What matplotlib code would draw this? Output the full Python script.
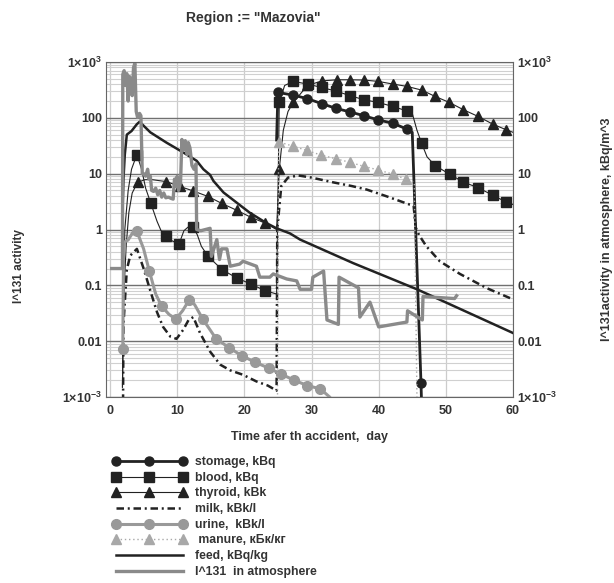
import matplotlib
matplotlib.use("Agg")
import matplotlib.pyplot as plt
import numpy as np

plt.rcParams['font.family'] = ['Liberation Sans', 'DejaVu Sans']
plt.rcParams['font.weight'] = 'bold'
plt.rcParams['axes.labelweight'] = 'bold'
plt.rcParams['mathtext.fontset'] = 'custom'
plt.rcParams['mathtext.rm'] = 'Liberation Sans:bold'
plt.rcParams['mathtext.default'] = 'rm'

# Data (days after accident, activity)
stomage_day = [24.8, 25.0, 27.3, 29.4, 31.5, 33.7, 35.7, 37.8, 39.9, 42.1, 44.2, 45.0, 46.3, 46.6]
stomage_val = [40, 285, 255, 220, 180, 147, 128, 109, 92, 80, 63, 55, 0.0018, 1e-4]
stomage_mark = [25.0, 27.3, 29.4, 31.5, 33.7, 35.7, 37.8, 39.9, 42.1, 44.2, 46.3]

blood_day = [1.85, 2.2, 2.7, 3.2, 4.0, 4.7, 5.3, 6.05, 7.0, 7.6, 8.3, 9.3, 10.3, 11.0, 11.6,
             12.4, 13.0, 13.6, 14.6, 16.7, 18.9, 21.0, 23.1, 24.8, 25.2, 26.0, 27.3, 29.5,
             31.5, 33.7, 35.7, 37.8, 39.9, 42.1, 44.2, 45.0, 45.7, 46.4, 47.2, 48.4, 50.6,
             52.6, 54.8, 57.0, 59.0, 60.0]
blood_val = [0.0015, 1.0, 5, 12, 22, 12, 5.5, 3.0, 1.4, 0.95, 0.78, 0.62, 0.56, 0.95, 1.1,
             1.1, 0.8, 0.5, 0.33, 0.19, 0.135, 0.105, 0.08, 0.07, 190, 380, 450, 400,
             350, 300, 250, 211, 189, 160, 133, 120, 60, 35, 20, 14, 9.7,
             7.1, 5.6, 4.1, 3.1, 2.8]
blood_mark = [4.0, 6.05, 8.3, 10.3, 12.4, 14.6, 16.7, 18.9, 21.0, 23.1, 25.2, 27.3, 29.5,
              31.5, 33.7, 35.7, 37.8, 39.9, 42.1, 44.2, 46.4, 48.4, 50.6, 52.6, 54.8, 57.0, 59.0]

thyroid_day = [1.85, 2.0, 2.4, 2.8, 3.3, 4.1, 5.2, 6.3, 8.4, 10.4, 12.4, 14.6, 16.6, 18.9,
               21.0, 23.1, 24.8, 25.2, 25.8, 26.5, 27.3, 29.4, 31.6, 33.8, 35.8, 37.8, 39.9,
               42.1, 44.2, 46.4, 48.4, 50.5, 52.6, 54.8, 57.0, 59.0, 60.0]
thyroid_val = [0.0015, 0.05, 0.5, 2, 4.5, 7, 7.8, 7.8, 7.2, 5.9, 4.9, 3.9, 2.95, 2.2,
               1.65, 1.3, 1.0, 12, 60, 130, 190, 380, 460, 480, 480, 475, 450,
               403, 366, 314, 242, 189, 140, 106, 77, 61, 55]
thyroid_mark = [4.1, 8.4, 10.4, 12.4, 14.6, 16.6, 18.9, 21.0, 23.1, 25.2, 27.3, 29.4, 31.6,
                33.8, 35.8, 37.8, 39.9, 42.1, 44.2, 46.4, 48.4, 50.5, 52.6, 54.8, 57.0, 59.0]

milk_day = [1.9, 2.0, 2.5, 3.0, 4.0, 5.0, 6.0, 7.0, 7.9, 9.0, 9.9, 10.9, 11.7, 12.4, 13.4,
            14.9, 16.4, 17.9, 19.8, 21.8, 23.5, 24.8, 24.9, 25.5, 26.5, 28.0, 30.0, 33.2,
            36.0, 38.2, 41.0, 44.6, 45.2, 45.5, 46.0, 47.1, 49.1, 52.1, 56.1, 60.0]
milk_val = [1e-4, 0.02, 0.19, 0.34, 0.45, 0.2, 0.08, 0.033, 0.018, 0.012, 0.011, 0.016, 0.024,
            0.027, 0.014, 0.0065, 0.0038, 0.003, 0.0025, 0.0019, 0.0016, 0.0013, 1.0, 6, 8.5,
            9.3, 8.5, 7, 6, 5.2, 4, 2.8, 2.7, 1.1, 0.8, 0.5, 0.27, 0.16, 0.089, 0.056]

urine_day = [1.9, 2.0, 2.2, 2.7, 3.4, 4.0, 5.0, 5.85, 6.8, 7.7, 8.8, 9.8, 10.8, 11.8, 12.6,
             13.8, 15.8, 17.7, 19.6, 21.6, 23.6, 25.4, 27.4, 29.4, 31.3, 32.7, 34.0]
urine_val = [0.0072, 0.3, 0.6, 0.65, 0.89, 0.93, 0.45, 0.18, 0.07, 0.042, 0.03, 0.025, 0.035,
             0.055, 0.045, 0.025, 0.011, 0.0077, 0.0055, 0.0042, 0.0033, 0.0026, 0.002,
             0.0016, 0.0014, 0.001, 0.0006]
urine_mark = [1.9, 4.0, 5.85, 7.7, 9.8, 11.8, 13.8, 15.8, 17.7, 19.6, 21.6, 23.6, 25.4,
              27.4, 29.4, 31.3]

manure_day = [24.9, 25.1, 27.3, 29.3, 31.4, 33.6, 35.7, 37.8, 39.9, 42.1, 44.1, 45.3, 45.8]
manure_val = [1e-4, 37, 31, 26, 21.6, 18.5, 16, 13.5, 11.7, 9.8, 7.9, 7, 1e-4]
manure_mark = [25.1, 27.3, 29.3, 31.4, 33.6, 35.7, 37.8, 39.9, 42.1, 44.1]

feed_day = [1.9, 2.0, 2.2, 2.5, 3.2, 4.0, 4.4, 6.0, 8.4, 10.9, 12.9, 13.9, 14.9, 15.4, 16.9,
            18.9, 20.8, 23.3, 24.8, 26.8, 28.3, 36.2, 45.7, 60.0]
feed_val = [3, 8, 22, 50, 58, 77, 85, 55, 36, 24, 17, 12, 9.5, 7.4, 4.6,
            3.0, 2.0, 1.3, 1.05, 0.85, 0.66, 0.25, 0.085, 0.014]

atmo_day = [0.25, 1.85, 1.9, 2.1, 2.3, 2.5, 2.7, 2.9, 3.1, 3.3, 3.5, 3.7, 3.9, 4.1, 4.4, 4.6,
            4.8, 5.0, 5.3, 5.6, 5.8, 6.0, 6.2, 6.5, 6.8, 7.1, 7.4, 7.7, 8.0, 8.3, 8.7, 9.1,
            9.4, 9.6, 9.8, 10.0, 10.2, 10.5, 10.7, 10.9, 11.2, 11.5, 11.65, 11.9, 12.2, 12.5,
            12.8, 12.9, 13.5, 14.9, 15.1, 15.9, 16.3, 16.6, 17.4, 17.9, 19.3, 19.8, 21.8,
            22.3, 23.8, 24.3, 26.3, 27.8, 28.3, 30.0, 30.2, 31.8, 32.3, 34.0, 34.1, 37.0,
            37.2, 38.7, 40.0, 44.2, 44.3, 45.8, 46.5, 46.6, 51.3, 51.6]
atmo_val = [0.2, 0.2, 600, 700, 380, 620, 200, 550, 420, 250, 800, 950, 130, 102, 120, 109,
            10, 10, 9, 12, 8, 9, 5, 4.8, 5.5, 4.2, 5, 3.8, 4.5, 3.7, 3.8, 3.6,
            3.5, 8, 6, 9, 5, 7, 41, 26, 39, 22, 36, 29, 14, 12,
            15, 1.0, 0.95, 1.05, 0.33, 0.66, 0.29, 0.45, 0.45, 0.22, 0.24, 0.27, 0.22,
            0.14, 0.14, 0.16, 0.13, 0.12, 0.085, 0.085, 0.14, 0.18, 0.024, 0.02, 0.14, 0.09,
            0.027, 0.05, 0.018, 0.022, 0.035, 0.027, 0.024, 0.063, 0.058, 0.065]

x_ticks = [0, 10, 20, 30, 40, 50, 60]
y_ticks = [1e-3, 1e-2, 1e-1, 1, 10, 100, 1e3]
y_ticklabels = [r'1$\times$10$^{-3}$', '0.01', '0.1', '1', '10', '100', r'1$\times$10$^{3}$']

dark = '#222222'
gray = '#8a8a8a'
txt = '#333333'


def marks(days, at):
    return [i for i, d in enumerate(days) if d in at]


fig = plt.figure(figsize=(6.14, 5.83), dpi=100)
ax = fig.add_axes([106 / 614, 1 - 397 / 583, 407 / 614, 335 / 583])

ax.plot(stomage_day, stomage_val, color=dark, lw=2, marker='o', ms=6.5,
        markevery=marks(stomage_day, stomage_mark), label='stomage, kBq')
ax.plot(blood_day, blood_val, color=dark, lw=0.8, marker='s', ms=7,
        markevery=marks(blood_day, blood_mark), label='blood, kBq')
ax.plot(thyroid_day, thyroid_val, color=dark, lw=0.8, marker='^', ms=7,
        markevery=marks(thyroid_day, thyroid_mark), label='thyroid, kBk')
ax.plot(milk_day, milk_val, color=dark, lw=1.8, linestyle=(0, (3, 1.5, 0.8, 1.5)),
        label='milk, kBk/l')
ax.plot(urine_day, urine_val, color='#999999', lw=2.2, marker='o', ms=7,
        markevery=marks(urine_day, urine_mark), label='urine,  kBk/l')
ax.plot(manure_day, manure_val, color='#a8a8a8', lw=1.0, linestyle=(0, (1, 2)), marker='^',
        ms=7, markevery=marks(manure_day, manure_mark), label=' manure, кБк/кг')
ax.plot(feed_day, feed_val, color=dark, lw=1.8, label='feed, kBq/kg')
ax.plot(atmo_day, atmo_val, color=gray, lw=2.4, label='I^131  in atmosphere')

ax.set_yscale('log')
ax.set_ylim(1e-3, 1e3)
ax.set_xlim(-0.6, 60)
ax.set_xticks(x_ticks)
ax.set_yticks(y_ticks)
ax.set_yticklabels(y_ticklabels)
ax.minorticks_on()
ax.xaxis.set_minor_locator(matplotlib.ticker.NullLocator())
ax.grid(axis='y', which='major', color='#707070', lw=1.0)
ax.grid(axis='y', which='minor', color='#d0d0d0', lw=0.8)
ax.grid(axis='x', which='major', color='#cccccc', lw=0.9)
ax.set_axisbelow(True)
ax.tick_params(axis='both', which='both', length=0, labelsize=9, labelcolor=txt)
ax.tick_params(axis='y', pad=3, labelright=True)
ax.tick_params(axis='x', pad=6)
for s in ax.spines.values():
    s.set_color('#666666')

ax.set_xlabel('Time afer th accident,  day', fontsize=9, color=txt, labelpad=10)
ax.set_ylabel('I^131 activity', fontsize=8.5, color=txt)
ax.yaxis.set_label_coords(-0.20, 0.39)
fig.text(607 / 614, 1 - 229 / 583, 'I^131activity in atmosphere, kBq/m^3', rotation=90,
         ha='center', va='center', fontsize=9, color=txt)

fig.text(253 / 614, 1 - 18 / 583, 'Region := "Mazovia"', ha='center', va='center',
         fontsize=10, color=txt)

handles, labels = ax.get_legend_handles_labels()
fig.legend(handles, labels, loc='upper left', bbox_to_anchor=(106 / 614, 1 - 450 / 583),
           frameon=False, fontsize=8.8, handlelength=6.1, handletextpad=0.7,
           labelspacing=0.3, borderpad=0, numpoints=3, labelcolor=txt)

fig.savefig('out.png', dpi=100)
